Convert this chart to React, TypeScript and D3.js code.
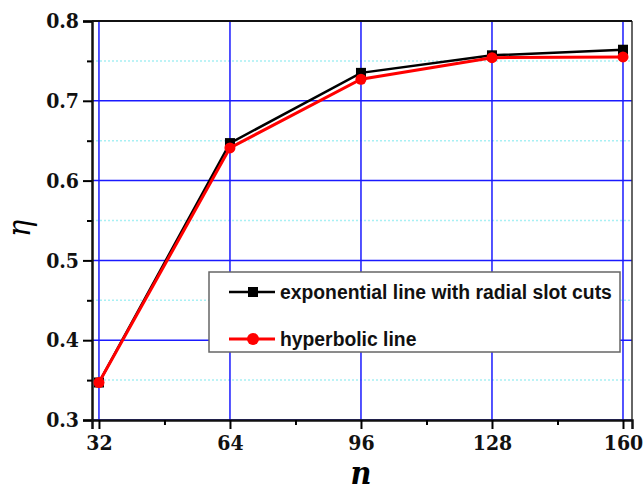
import { useRef, useEffect } from 'react';
import * as d3 from 'd3';

const N_VALUES = [32, 64, 96, 128, 160];
const EXPONENTIAL = [0.347, 0.647, 0.735, 0.757, 0.764];
const HYPERBOLIC = [0.347, 0.641, 0.727, 0.754, 0.755];
const Y_TICKS = [0.3, 0.4, 0.5, 0.6, 0.7, 0.8];
const Y_MINOR = [0.35, 0.45, 0.55, 0.65, 0.75];
const X_MINOR = [48, 80, 112, 144];
const LEGEND = ['exponential line with radial slot cuts', 'hyperbolic line'];

const WIDTH = 643;
const HEIGHT = 492;
const PLOT = { left: 92, right: 632, top: 21, bottom: 420 };
const SERIF = "'DejaVu Serif Condensed', 'DejaVu Serif', serif";
const SANS = "'Liberation Sans', Arial, Helvetica, sans-serif";
const LEGEND_TEXT_WIDTH = 332;

export default function App() {
  const svgRef = useRef<SVGSVGElement>(null);

  useEffect(() => {
    if (!svgRef.current) return;
    const svg = d3.select(svgRef.current);
    svg.selectAll('*').remove();

    const x = d3.scaleLinear().domain([30.3, 162.2]).range([PLOT.left, PLOT.right]);
    const y = d3.scaleLinear().domain([0.3, 0.8]).range([PLOT.bottom, PLOT.top]);

    svg.append('rect').attr('width', WIDTH).attr('height', HEIGHT).attr('fill', '#fff');

    // minor dotted grid
    svg.append('g')
      .selectAll('line')
      .data(Y_MINOR)
      .join('line')
      .attr('x1', PLOT.left).attr('x2', PLOT.right)
      .attr('y1', (d) => y(d)).attr('y2', (d) => y(d))
      .attr('stroke', '#a8f0f4')
      .attr('stroke-width', 1.5)
      .attr('stroke-dasharray', '2,2');

    // major grid
    const grid = svg.append('g').attr('stroke', '#1a1aff').attr('stroke-width', 1.5);
    grid.selectAll('line.h')
      .data(Y_TICKS)
      .join('line')
      .attr('class', 'h')
      .attr('x1', PLOT.left).attr('x2', PLOT.right)
      .attr('y1', (d) => y(d)).attr('y2', (d) => y(d));
    grid.selectAll('line.v')
      .data(N_VALUES)
      .join('line')
      .attr('class', 'v')
      .attr('y1', PLOT.top).attr('y2', PLOT.bottom)
      .attr('x1', (d) => x(d)).attr('x2', (d) => x(d));

    // frame
    svg.append('line')
      .attr('x1', PLOT.right).attr('x2', PLOT.right)
      .attr('y1', PLOT.top).attr('y2', PLOT.bottom)
      .attr('stroke', '#333').attr('stroke-width', 1.5);
    svg.append('line')
      .attr('x1', PLOT.left).attr('x2', PLOT.right)
      .attr('y1', PLOT.top).attr('y2', PLOT.top)
      .attr('stroke', '#111').attr('stroke-width', 2);

    // axes
    const yAxis = svg.append('g')
      .attr('transform', `translate(${PLOT.left},0)`)
      .call(d3.axisLeft(y).tickValues(Y_TICKS).tickFormat(d3.format('.1f')).tickSize(9).tickPadding(4));
    svg.append('g')
      .attr('transform', `translate(${PLOT.left},0)`)
      .call(d3.axisLeft(y).tickValues(Y_MINOR).tickFormat(() => '').tickSize(5))
      .call((g) => g.select('.domain').remove())
      .selectAll('line').attr('stroke-width', 2);
    const xAxis = svg.append('g')
      .attr('transform', `translate(0,${PLOT.bottom})`)
      .call(d3.axisBottom(x).tickValues(N_VALUES).tickFormat(d3.format('d')).tickSize(9).tickPadding(6));
    svg.append('g')
      .attr('transform', `translate(0,${PLOT.bottom})`)
      .call(d3.axisBottom(x).tickValues(X_MINOR).tickFormat(() => '').tickSize(5))
      .call((g) => g.select('.domain').remove())
      .selectAll('line').attr('stroke-width', 2);

    [yAxis, xAxis].forEach((g) => {
      g.attr('font-family', null);
      g.select('.domain').attr('stroke-width', 2.5).attr('stroke', '#111');
      g.selectAll('.tick line').attr('stroke-width', 2);
      g.selectAll('text')
        .style('font-family', SERIF)
        .style('font-stretch', 'condensed')
        .style('font-weight', 'bold')
        .style('font-size', '21px')
        .attr('fill', '#111');
    });

    // axis titles
    svg.append('text')
      .attr('x', x(96)).attr('y', 484)
      .attr('text-anchor', 'middle')
      .style('font-family', SERIF)
      .style('font-style', 'italic').style('font-weight', 'bold')
      .style('font-size', '32px')
      .text('n');
    svg.append('text')
      .attr('transform', `translate(30,${y(0.54)}) rotate(-90)`)
      .attr('text-anchor', 'middle')
      .style('font-family', SERIF)
      .style('font-style', 'italic')
      .style('font-size', '32px')
      .text('η');

    // series
    const line = d3.line<number>()
      .x((_, i) => x(N_VALUES[i]))
      .y((d) => y(d));

    svg.append('path')
      .datum(EXPONENTIAL)
      .attr('fill', 'none').attr('stroke', '#000').attr('stroke-width', 2.5)
      .attr('d', line);
    svg.append('g')
      .selectAll('rect')
      .data(EXPONENTIAL)
      .join('rect')
      .attr('x', (_, i) => x(N_VALUES[i]) - 5)
      .attr('y', (d) => y(d) - 5)
      .attr('width', 10).attr('height', 10)
      .attr('fill', '#000');

    svg.append('path')
      .datum(HYPERBOLIC)
      .attr('fill', 'none').attr('stroke', '#ff0000').attr('stroke-width', 3)
      .attr('d', line);
    svg.append('g')
      .selectAll('circle')
      .data(HYPERBOLIC)
      .join('circle')
      .attr('cx', (_, i) => x(N_VALUES[i]))
      .attr('cy', (d) => y(d))
      .attr('r', 5.5)
      .attr('fill', '#ff0000');

    // legend
    const lg = svg.append('g').attr('transform', 'translate(209,272)');
    lg.append('rect')
      .attr('width', 411).attr('height', 80)
      .attr('fill', '#fff')
      .attr('stroke', '#666').attr('stroke-width', 1.5);
    const colors = ['#000', '#ff0000'];
    const texts = LEGEND.map((label, i) => {
      const cy = 20 + i * 47;
      lg.append('line')
        .attr('x1', 20).attr('x2', 66)
        .attr('y1', cy).attr('y2', cy)
        .attr('stroke', colors[i]).attr('stroke-width', i === 0 ? 2.5 : 3);
      if (i === 0) {
        lg.append('rect').attr('x', 39).attr('y', cy - 5).attr('width', 10).attr('height', 10).attr('fill', '#000');
      } else {
        lg.append('circle').attr('cx', 44).attr('cy', cy).attr('r', 6).attr('fill', '#ff0000');
      }
      return lg.append('text')
        .attr('x', 71).attr('y', cy + 7)
        .style('font-family', SANS)
        .style('font-weight', 'bold')
        .style('font-size', '20px')
        .attr('fill', '#111')
        .text(label);
    });
    // fit the long label to the width seen in the reference
    const measured = (texts[0].node() as SVGTextElement).getComputedTextLength();
    if (measured > 0) {
      const size = Math.min(20, (20 * LEGEND_TEXT_WIDTH) / measured);
      texts.forEach((t) => t.style('font-size', `${size}px`));
    }
  }, []);

  return (
    <svg
      ref={svgRef}
      width={WIDTH}
      height={HEIGHT}
      style={{ position: 'absolute', left: 0, top: 0 }}
    />
  );
}
